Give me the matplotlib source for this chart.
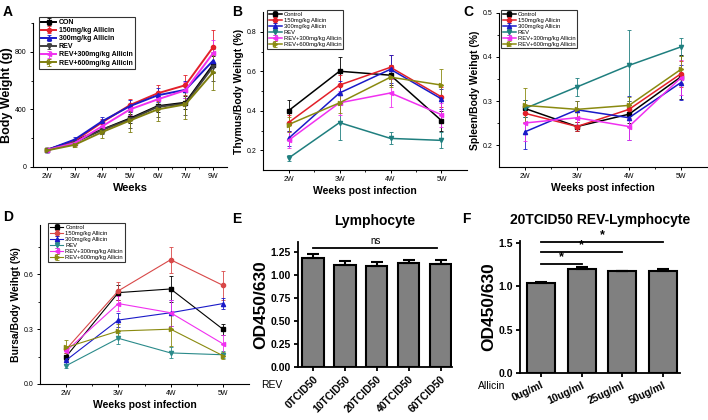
import matplotlib
matplotlib.use('Agg')
import matplotlib.pyplot as plt
import numpy as np

plt.rcParams['font.family'] = ['Liberation Sans', 'DejaVu Sans']

# ---- data ----
weeks_a = ['2W', '3W', '4W', '5W', '6W', '7W', '9W']
weeks = ['2W', '3W', '4W', '5W']

labels_a = ['CON', '150mg/kg Allicin', '300mg/kg Allicin', 'REV',
            'REV+300mg/kg Allicin', 'REV+600mg/kg Allicin']
labels_b = ['Control', '150mg/kg Allicin', '300mg/kg Allicin', 'REV',
            'REV+300mg/kg Allicin', 'REV+600mg/kg Allicin']

body_con = [118, 182, 260, 337, 423, 447, 711]
body_150 = [118, 182, 311, 430, 512, 568, 833]
body_300 = [118, 190, 318, 423, 498, 536, 739]
body_rev = [115, 170, 258, 330, 418, 440, 697]
body_r300 = [118, 166, 283, 400, 470, 533, 791]
body_r600 = [115, 154, 243, 323, 400, 435, 657]
body_err = [[8, 15, 25, 30, 40, 45, 60],
            [8, 15, 25, 45, 55, 70, 115],
            [8, 15, 30, 40, 50, 60, 80],
            [8, 15, 30, 60, 70, 80, 100],
            [8, 15, 30, 40, 50, 55, 90],
            [8, 15, 40, 80, 80, 105, 120]]

thymus_ctl = [0.40, 0.60, 0.58, 0.35]
thymus_150 = [0.34, 0.53, 0.62, 0.47]
thymus_300 = [0.26, 0.49, 0.61, 0.46]
thymus_rev = [0.16, 0.34, 0.26, 0.25]
thymus_r300 = [0.25, 0.44, 0.49, 0.38]
thymus_r600 = [0.33, 0.44, 0.57, 0.53]
thymus_err = [[0.055, 0.07, 0.05, 0.05],
              [0.04, 0.05, 0.06, 0.05],
              [0.04, 0.06, 0.07, 0.05],
              [0.015, 0.09, 0.03, 0.04],
              [0.04, 0.06, 0.07, 0.06],
              [0.04, 0.05, 0.05, 0.08]]

spleen_ctl = [0.283, 0.242, 0.27, 0.355]
spleen_150 = [0.272, 0.242, 0.281, 0.362]
spleen_300 = [0.23, 0.28, 0.262, 0.342]
spleen_rev = [0.283, 0.332, 0.381, 0.423]
spleen_r300 = [0.25, 0.262, 0.242, 0.353]
spleen_r600 = [0.29, 0.281, 0.29, 0.372]
spleen_err = [[0.02, 0.01, 0.02, 0.05],
              [0.02, 0.01, 0.02, 0.03],
              [0.04, 0.02, 0.05, 0.04],
              [0.02, 0.02, 0.08, 0.02],
              [0.04, 0.02, 0.03, 0.04],
              [0.04, 0.02, 0.02, 0.03]]

bursa_ctl = [0.15, 0.50, 0.52, 0.30]
bursa_150 = [0.19, 0.51, 0.68, 0.54]
bursa_300 = [0.13, 0.35, 0.39, 0.44]
bursa_rev = [0.10, 0.25, 0.17, 0.16]
bursa_r300 = [0.18, 0.44, 0.39, 0.22]
bursa_r600 = [0.20, 0.29, 0.30, 0.155]
bursa_err = [[0.02, 0.04, 0.07, 0.03],
             [0.02, 0.05, 0.07, 0.08],
             [0.02, 0.04, 0.07, 0.03],
             [0.01, 0.03, 0.03, 0.02],
             [0.02, 0.04, 0.07, 0.05],
             [0.04, 0.04, 0.09, 0.02]]

lymph_cats = ['0TCID50', '10TCID50', '20TCID50', '40TCID50', '60TCID50']
lymph_vals = [1.19, 1.11, 1.10, 1.13, 1.12]
lymph_err = [0.04, 0.04, 0.04, 0.035, 0.04]

allicin_cats = ['0ug/ml', '10ug/ml', '25ug/ml', '50ug/ml']
allicin_vals = [1.04, 1.20, 1.17, 1.18]
allicin_err = [0.012, 0.02, 0.01, 0.015]

markers = ['s', 'o', '^', 'v', '<', '>']
colors_a = ['black', '#e3202a', '#1a1ac8', '#404040', '#f030f0', '#7f7f10']
colors_b = ['black', '#e3202a', '#1a1ac8', '#1f7f7f', '#f030f0', '#8a8a10']
colors_d = ['black', '#d84848', '#1a1ac8', '#2a8a8a', '#f030f0', '#8a8a10']

W, H = 708, 420


def box(l, r, t, b):
    return [l / W, 1 - b / H, (r - l) / W, (b - t) / H]


fig = plt.figure(figsize=(7.08, 4.2), dpi=100)


def origin_axes(ax, ylim, yticks, yminor, ylabel, xlabels, xlabel, tsize, lsize):
    ax.spines['top'].set_visible(False)
    ax.spines['right'].set_visible(False)
    ax.set_xlim(-0.5, len(xlabels) - 0.5)
    ax.set_ylim(*ylim)
    ax.set_xticks(range(len(xlabels)))
    ax.set_xticklabels(xlabels, fontsize=tsize)
    ax.set_xticks(np.arange(0.5, len(xlabels) - 0.5, 1.0), minor=True)
    ax.set_yticks(yticks)
    ax.set_yticks(yminor, minor=True)
    ax.tick_params(axis='both', which='major', labelsize=tsize, length=2.5, width=0.7, direction='out', pad=2)
    ax.tick_params(axis='both', which='minor', length=1.5, width=0.6, direction='out')
    ax.set_ylabel(ylabel, fontsize=lsize, fontweight='bold', labelpad=2)
    ax.set_xlabel(xlabel, fontsize=lsize, fontweight='bold', labelpad=2)
    for s in ['left', 'bottom']:
        ax.spines[s].set_linewidth(0.8)


def draw_lines(ax, series, errs, labels, colors, lw, ms, leg_anchor, leg_size, bold):
    x = np.arange(len(series[0]))
    for vals, err, lab, col, mk in zip(series, errs, labels, colors, markers):
        ax.errorbar(x, vals, yerr=err, color=col, marker=mk, ms=ms, lw=lw,
                    elinewidth=0.6, capsize=1.5, capthick=0.6, label=lab)
    leg = ax.legend(loc='upper left', bbox_to_anchor=leg_anchor, fontsize=leg_size,
                    frameon=True, fancybox=False, edgecolor='black', handlelength=2.2,
                    borderpad=0.3, labelspacing=0.15, handletextpad=0.4, borderaxespad=0)
    leg.get_frame().set_linewidth(0.8)
    if bold:
        for t in leg.get_texts():
            t.set_fontweight('bold')


# ---- A ----
axA = fig.add_axes(box(33, 227, 23, 167))
draw_lines(axA, [body_con, body_150, body_300, body_rev, body_r300, body_r600], body_err,
           labels_a, colors_a, 1.4, 3, (0.03, 1.04), 5, True)
origin_axes(axA, (0, 1000), [0, 400, 800], [200, 600, 1000], 'Body Weight (g)',
            weeks_a, 'Weeks', 5, 9)
axA.xaxis.label.set_size(8)
axA.yaxis.set_label_coords(-0.105, 0.5)

# ---- B ----
axB = fig.add_axes(box(263, 467, 12, 170))
draw_lines(axB, [thymus_ctl, thymus_150, thymus_300, thymus_rev, thymus_r300, thymus_r600], thymus_err,
           labels_b, colors_b, 1.1, 3, (0.02, 1.01), 4.2, False)
origin_axes(axB, (0.1, 0.9), [0.2, 0.4, 0.6, 0.8], [0.3, 0.5, 0.7], 'Thymus/Body Weihgt (%)',
            weeks, 'Weeks post infection', 5, 7.5)

# ---- C ----
axC = fig.add_axes(box(499, 707, 13, 167))
draw_lines(axC, [spleen_ctl, spleen_150, spleen_300, spleen_rev, spleen_r300, spleen_r600], spleen_err,
           labels_b, colors_b, 1.1, 3, (0.01, 1.02), 4.2, False)
origin_axes(axC, (0.15, 0.5), [0.2, 0.3, 0.4, 0.5], [0.25, 0.35, 0.45], 'Spleen/Body Weihgt (%)',
            weeks, 'Weeks post infection', 5, 7.5)

# ---- D ----
axD = fig.add_axes(box(40, 249, 225, 384))
draw_lines(axD, [bursa_ctl, bursa_150, bursa_300, bursa_rev, bursa_r300, bursa_r600], bursa_err,
           labels_b, colors_d, 0.8, 3, (0.04, 1.01), 4.2, False)
origin_axes(axD, (0, 0.87), [0.0, 0.3, 0.6], [0.15, 0.45, 0.75], 'Bursa/Body Weihgt (%)',
            weeks, 'Weeks post infection', 5, 7.5)


# ---- E, F (bar charts) ----
def bar_axes(ax, cats, vals, err, xlim, ylim, yticks, fmt, width, rot, title, leftlab, lab_xy):
    x = np.arange(len(cats))
    ax.bar(x, vals, width=width, color='#808080', edgecolor='black', linewidth=1.5, zorder=2)
    ax.errorbar(x, vals, yerr=[np.zeros(len(err)), err], fmt='none', ecolor='black',
                elinewidth=1.5, capsize=4, capthick=1.5, zorder=3)
    ax.set_xlim(*xlim)
    ax.set_ylim(*ylim)
    ax.set_yticks(yticks)
    ax.set_yticklabels([fmt.format(v) for v in yticks], fontsize=7.5, fontweight='bold')
    ax.set_xticks(x)
    ax.set_xticklabels(cats, rotation=rot, ha='right', rotation_mode='anchor',
                       fontsize=7.5, fontweight='bold')
    ax.spines['top'].set_visible(False)
    ax.spines['right'].set_visible(False)
    for s in ['left', 'bottom']:
        ax.spines[s].set_linewidth(1.3)
    ax.tick_params(axis='both', length=3, width=1.3, direction='out', pad=2)
    ax.set_ylabel('OD450/630', fontsize=12.5, fontweight='bold', labelpad=2)
    ax.set_title(title, fontsize=10, fontweight='bold', pad=12)
    ax.text(lab_xy[0], lab_xy[1], leftlab, transform=ax.transAxes, fontsize=7.5,
            ha='right', va='center')


axE = fig.add_axes(box(298, 452, 242, 367))
bar_axes(axE, lymph_cats, lymph_vals, lymph_err, (-0.47, 4.36), (0, 1.36),
         [0.0, 0.25, 0.5, 0.75, 1.0, 1.25], '{:.2f}', 0.67, 45, 'Lymphocyte', 'REV',
         (-0.1, -0.14))
axE.plot([0, 3.9], [1.30, 1.30], color='black', lw=1.3, clip_on=False)
axE.text(1.95, 1.32, 'ns', ha='center', va='bottom', fontsize=7)

axF = fig.add_axes(box(520, 680, 241, 373))
bar_axes(axF, allicin_cats, allicin_vals, allicin_err, (-0.52, 3.42), (0, 1.52),
         [0.0, 0.5, 1.0, 1.5], '{:.1f}', 0.69, 25, '20TCID50 REV-Lymphocyte', 'Allicin',
         (-0.09, -0.1))
for j, yv in zip([1, 2, 3], [1.253, 1.39, 1.51]):
    axF.plot([0, j], [yv, yv], color='black', lw=1.3, clip_on=False)
    axF.text(j / 2, yv + 0.01, '*', ha='center', va='bottom', fontsize=9, fontweight='bold')

# panel letters
for letter, px, py in [('A', 3, 5), ('B', 232, 5), ('C', 463, 5),
                       ('D', 3, 210), ('E', 232, 212), ('F', 462, 212)]:
    fig.text(px / W, 1 - py / H, letter, fontsize=10, fontweight='bold', ha='left', va='top')

fig.savefig('out.png', dpi=100)
